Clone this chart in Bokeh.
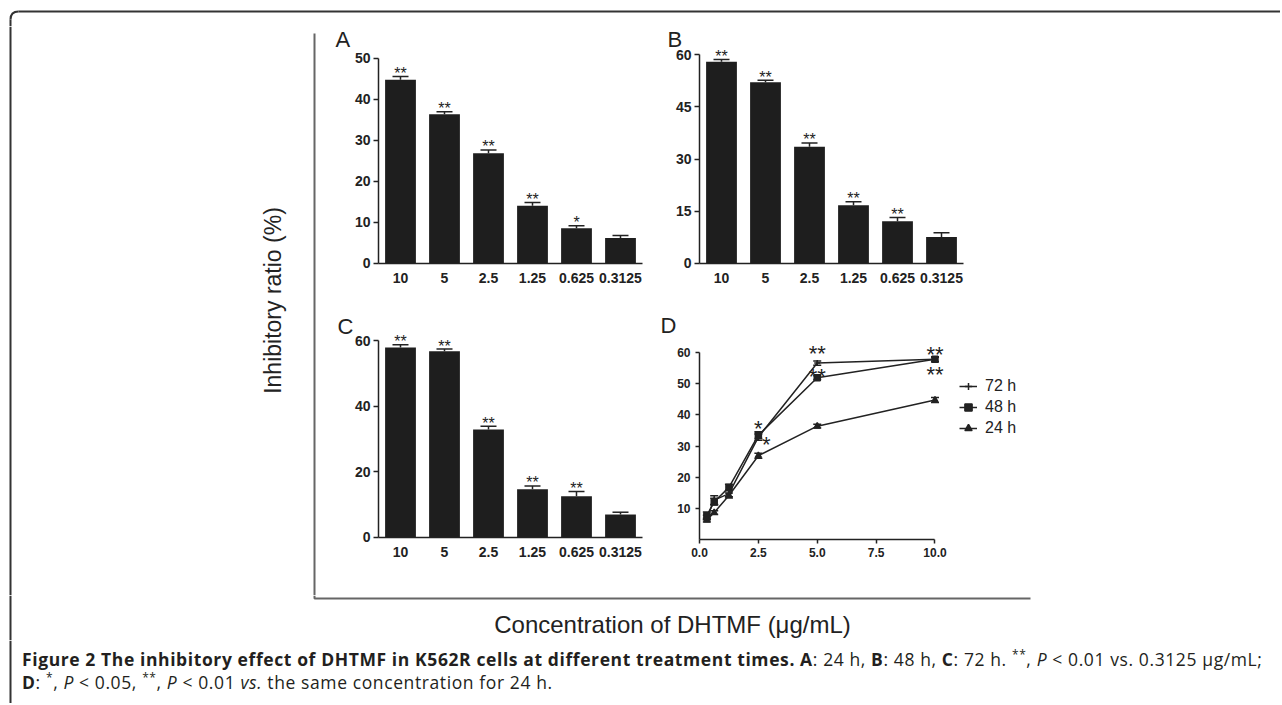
import numpy as np
from bokeh.plotting import figure
from bokeh.models import (Range1d, ColumnDataSource, Whisker, TeeHead,
                          Legend, LegendItem, FixedTicker, Div, PrintfTickFormatter)
from bokeh.layouts import column, row
from bokeh.core.properties import value
from bokeh.embed import file_html
from bokeh.resources import INLINE

# ---------------- data ----------------
conc_labels = ["10", "5", "2.5", "1.25", "0.625", "0.3125"]
conc_values = [10, 5, 2.5, 1.25, 0.625, 0.3125]

ratio_24h = [44.8, 36.4, 26.9, 14.1, 8.6, 6.2]
err_24h = [0.8, 0.6, 0.8, 0.8, 0.6, 0.6]
ratio_48h = [57.9, 52.0, 33.5, 16.7, 12.1, 7.6]
err_48h = [0.7, 0.6, 1.1, 1.0, 1.1, 1.2]
ratio_72h = [57.9, 56.7, 32.9, 14.7, 12.6, 7.0]
err_72h = [0.8, 0.7, 1.0, 1.0, 1.4, 0.7]

stars_24h = ["**", "**", "**", "**", "*", ""]
stars_48h = ["**", "**", "**", "**", "**", ""]
stars_72h = ["**", "**", "**", "**", "**", ""]

series_names = ["72 h", "48 h", "24 h"]
d_star_labels = ["**", "**", "**", "**", "*", "*"]
d_star_conc = [10, 10, 5, 5, 2.5, 2.5]
d_star_series = ["72 h", "48 h", "72 h", "48 h", "72 h", "48 h"]

ticks_A = [0, 10, 20, 30, 40, 50]
ticks_B = [0, 15, 30, 45, 60]
ticks_C = [0, 20, 40, 60]
ticks_D_y = [10, 20, 30, 40, 50, 60]
ticks_D_x = [0, 2.5, 5, 7.5, 10]

panel_letters = ["A", "B", "C", "D"]
y_axis_title = "Inhibitory ratio (%)"
x_axis_title = "Concentration of DHTMF (\u03bcg/mL)"
SUP = "<sup style='line-height:0;font-size:12px'>"
caption_html = ("<b>Figure 2 The inhibitory effect of DHTMF in K562R cells at different treatment times. A</b>: "
                "24 h, <b>B</b>: 48 h, <b>C</b>: 72 h. " + SUP + "**</sup>, <i>P</i> &lt; 0.01 vs. 0.3125 \u03bcg/mL;<br>"
                "<b>D</b>: " + SUP + "*</sup>, <i>P</i> &lt; 0.05, " + SUP + "**</sup>, <i>P</i> &lt; 0.01 <i>vs.</i> "
                "the same concentration for 24 h.")

# ---------------- styles ----------------
FONT = "Liberation Sans"
INK = "#222222"
BAR = "#1e1e1e"
FRAME = "#666666"
BOX = "#333333"


def deco_fig(x0, x1, y0, y1):
    p = figure(width=x1 - x0, height=y1 - y0, x_range=Range1d(x0, x1), y_range=Range1d(-y1, -y0),
               output_backend="svg", toolbar_location=None, min_border=0)
    p.axis.visible = False
    p.grid.visible = False
    p.outline_line_color = None
    return p


def style_axes(p, size):
    for ax in p.axis:
        ax.axis_line_width = 1.5
        ax.axis_line_color = INK
        ax.major_tick_line_width = 1.5
        ax.major_tick_line_color = INK
        ax.major_tick_in = 0
        ax.major_tick_out = 5
        ax.minor_tick_line_color = None
        ax.major_label_text_font = FONT
        ax.major_label_text_font_style = "bold"
        ax.major_label_text_font_size = size
        ax.major_label_text_color = INK
        ax.fixed_location = 0
    p.grid.visible = False
    p.outline_line_color = None


def panel_fig(w, h, xr, yr):
    return figure(width=w, height=h, x_range=Range1d(*xr), y_range=Range1d(*yr),
                  output_backend="svg", toolbar_location=None, min_border=0)


def letter(p, x, y, t):
    p.text(x=[x], y=[y], text=[t], text_align="left", text_baseline="middle",
           text_font=value(FONT), text_font_size="22px", text_color=INK)


def bar_panel(vals, errs, stars, y_top, ticks, w, h, xr, yr, let, lx, ly):
    p = panel_fig(w, h, xr, yr)
    pos = list(range(1, len(conc_labels) + 1))
    up = [v + e for v, e in zip(vals, errs)]
    src = ColumnDataSource(dict(x=pos, top=vals, up=up, star=stars))
    p.vbar(x="x", top="top", width=0.7, source=src, fill_color=BAR, line_color=None)
    p.add_layout(Whisker(base="x", upper="up", lower="top", source=src, dimension="height",
                         line_color=INK, line_width=1.5,
                         upper_head=TeeHead(size=16, line_width=1.5, line_color=INK), lower_head=None))
    p.text(x="x", y="up", text="star", source=src, text_align="center", text_baseline="middle",
           y_offset=-3, text_font=value(FONT), text_font_size="16px", text_color=INK)
    style_axes(p, "14px")
    p.xaxis.ticker = FixedTicker(ticks=pos)
    p.xaxis.major_label_overrides = {i: lbl for i, lbl in zip(pos, conc_labels)}
    p.xaxis.major_tick_line_color = None
    p.xaxis.major_label_standoff = 5
    p.xaxis.bounds = (0.5, len(conc_labels) + 0.5)
    p.yaxis.fixed_location = 0.5
    p.yaxis.ticker = FixedTicker(ticks=ticks)
    p.yaxis.bounds = (0, y_top)
    p.yaxis.major_label_standoff = 3
    letter(p, lx, ly, let)
    return p


# Panels A, B, C: each figure's frame is the whole figure, axes sit at fixed places
figA = bar_panel(ratio_24h, err_24h, stars_24h, 50, ticks_A, 325, 264,
                 (-0.5909, 6.7955), (-6.585, 57.80), panel_letters[0], -0.477, 54.51)
figB = bar_panel(ratio_48h, err_48h, stars_48h, 60, ticks_B, 322, 264,
                 (-0.5, 6.818), (-7.752, 68.04), panel_letters[1], -0.227, 64.31)
figC = bar_panel(ratio_72h, err_72h, stars_72h, 60, ticks_C, 325, 305,
                 (-0.5909, 6.7955), (-17.67, 75.24), panel_letters[2], -0.432, 64.42)

# Panel D
figD = panel_fig(385, 305, (-1.868, 14.48), (-18.08, 80.05))
series = {"72 h": (ratio_72h, err_72h, "cross", 6),
          "48 h": (ratio_48h, err_48h, "square", 6),
          "24 h": (ratio_24h, err_24h, "triangle", 6)}
items = []
for name in series_names:
    vals, errs, mk, ms = series[name]
    src = ColumnDataSource(dict(x=conc_values, y=vals,
                                lo=[v - e for v, e in zip(vals, errs)],
                                hi=[v + e for v, e in zip(vals, errs)]))
    r1 = figD.line("x", "y", source=src, line_color=INK, line_width=1.5)
    r2 = figD.scatter("x", "y", source=src, marker=mk, size=ms, fill_color=INK, line_color=INK, line_width=1.5)
    figD.add_layout(Whisker(base="x", upper="hi", lower="lo", source=src, dimension="height",
                            line_color=INK, line_width=1.5,
                            upper_head=TeeHead(size=8, line_width=1.5, line_color=INK),
                            lower_head=TeeHead(size=8, line_width=1.5, line_color=INK)))
    items.append(LegendItem(label=name, renderers=[r1, r2]))

# significance marks in D
d_star_side = ["up", "down", "up", "up", "up", "mid"]
d_star_dy = [-2, 13, -7, 1, -5, 9]
d_star_dx = [0, 0, 0, 0, 0, 8]
sx, sy = [], []
for c, s, side in zip(d_star_conc, d_star_series, d_star_side):
    vals, errs, _, _ = series[s]
    i = conc_values.index(c)
    sx.append(c)
    sy.append(vals[i] + errs[i] if side == "up" else (vals[i] - errs[i] if side == "down" else vals[i]))
figD.text(x=sx, y=sy, text=d_star_labels, x_offset=d_star_dx, y_offset=d_star_dy,
          text_align="center", text_baseline="middle",
          text_font=value(FONT), text_font_size="22px", text_color=INK)

legend = Legend(items=items, location=(304, 157), label_text_font=FONT, label_text_font_size="16px",
                label_text_color=INK, glyph_width=18, glyph_height=20, label_height=20, label_standoff=8,
                spacing=1, padding=0, margin=0, border_line_color=None, background_fill_alpha=0)
figD.add_layout(legend)
style_axes(figD, "12px")
figD.xaxis.ticker = FixedTicker(ticks=ticks_D_x)
figD.xaxis.formatter = PrintfTickFormatter(format="%.1f")
figD.xaxis.bounds = (0, 10)
figD.xaxis.major_tick_out = 4
figD.yaxis.ticker = FixedTicker(ticks=ticks_D_y)
figD.yaxis.bounds = (0, 60)
figD.yaxis.major_tick_out = 4
letter(figD, -1.656, 68.63, panel_letters[3])

# ---------------- decorations ----------------
R = 8
top = deco_fig(0, 1280, 0, 26)
top.line([10 + R, 1280], [-11, -11], line_color=BOX, line_width=2)
top.quadratic(x0=[10], y0=[-(11 + R)], x1=[10 + R], y1=[-11], cx=[10], cy=[-11], line_color=BOX, line_width=2)
top.line([10, 10], [-(11 + R), -26], line_color=BOX, line_width=2)

left = deco_fig(0, 330, 26, 595)
left.line([10, 10], [-26, -595], line_color=BOX, line_width=2)
left.line([314, 314], [-33, -595], line_color=FRAME, line_width=2)
left.text(x=[272], y=[-300], text=[y_axis_title], angle=np.pi / 2, text_align="center",
          text_baseline="middle", text_font=value(FONT), text_font_size="23px", text_color=INK)

bottom = deco_fig(0, 1280, 595, 640)
bottom.line([10, 10], [-595, -640], line_color=BOX, line_width=2)
bottom.line([314, 314, 1030], [-595, -598, -598], line_color=FRAME, line_width=2)
bottom.text(x=[672], y=[-624], text=[x_axis_title], text_align="center", text_baseline="middle",
            text_font=value(FONT), text_font_size="24px", text_color=INK)

edge = deco_fig(0, 20, 640, 703)
edge.line([10, 10], [-640, -703], line_color=BOX, line_width=2)

caption = Div(text=caption_html, width=1260, height=63, margin=0,
              styles={"font-family": "Open Sans", "font-size": "17.5px", "line-height": "23px",
                      "letter-spacing": "0.6px", "white-space": "nowrap", "color": "#231f20",
                      "padding-top": "8px", "padding-left": "2px"})

layout = column(top,
                row(left, column(row(figA, figB), row(figC, figD))),
                bottom,
                row(edge, caption))

open("out.html", "w").write(file_html(layout, INLINE))
